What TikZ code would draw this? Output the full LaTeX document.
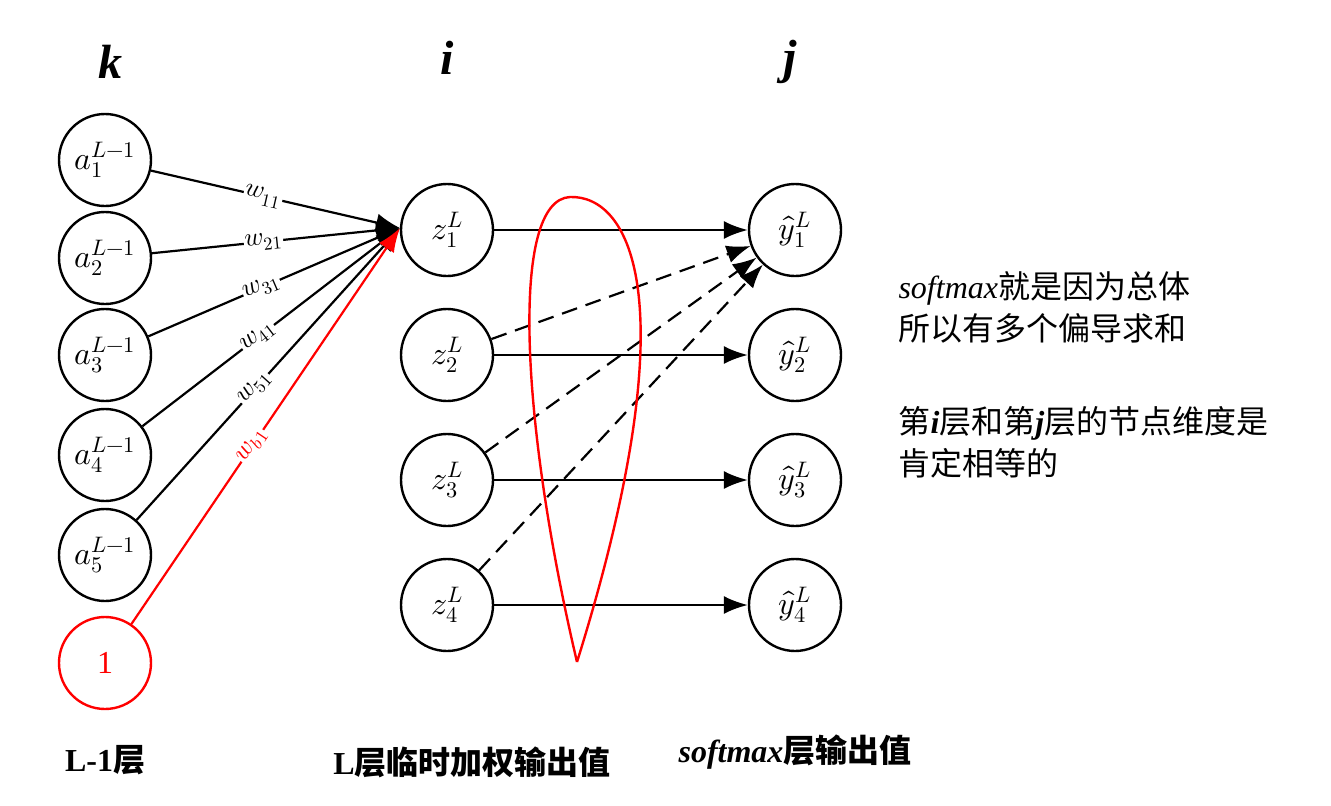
\documentclass[tikz,border=0pt]{standalone}
\usepackage{fontspec}
\usepackage{unicode-math}
\setmainfont{Liberation Serif}
\setmathfont{Latin Modern Math}
\newfontfamily\cjk{Noto Sans CJK SC}
\usetikzlibrary{arrows.meta}
\begin{document}
\begin{tikzpicture}[x=1pt,y=-1pt,
  neuron/.style={circle,draw,line width=2.4pt,minimum size=92pt,inner sep=0pt,font=\fontsize{32}{34}\selectfont},
  conn/.style={line width=2.2pt,-{Latex[length=24pt,width=18pt]}},
  wlab/.style={font=\fontsize{26}{28}\selectfont,fill=white,inner sep=1pt,sloped},
  txt/.style={font=\fontsize{32}{42}\selectfont,anchor=west,align=left}]
\useasboundingbox (0,0) rectangle (1331,806);
\node[font=\bfseries\itshape\fontsize{48}{50}\selectfont] (k) at (110,62) {k};
\node[font=\bfseries\itshape\fontsize{48}{50}\selectfont] (i) at (447,58) {i};
\node[font=\bfseries\itshape\fontsize{48}{50}\selectfont] (j) at (790,62) {j};
\foreach \n/\y in {1/160,2/258,3/355,4/455,5/555}
  \node[neuron] (a\n) at (105,\y) {$a_{\n}^{L-1}$};
\node[neuron,draw=red,text=red] (b) at (105,663) {1};
\foreach \n/\y in {1/230,2/355,3/480,4/605}{
  \node[neuron] (z\n) at (447,\y) {$z_{\n}^{L}$};
  \node[neuron] (y\n) at (795,\y) {$\hat{y}_{\n}^{L}$};}
\coordinate (t) at (400,228);
\draw[conn] (a1) -- node[wlab,pos=0.45]{$w_{11}$} (t);
\draw[conn] (a2) -- node[wlab,pos=0.45]{$w_{21}$} (t);
\draw[conn] (a3) -- node[wlab,pos=0.45]{$w_{31}$} (t);
\draw[conn] (a4) -- node[wlab,pos=0.45]{$w_{41}$} (t);
\draw[conn] (a5) -- node[wlab,pos=0.45]{$w_{51}$} (t);
\draw[conn,red] (b) -- node[wlab,pos=0.45,text=red]{$w_{b1}$} (t);
\foreach \n in {1,2,3,4} \draw[conn] (z\n) -- (y\n);
\foreach \n in {2,3,4} \draw[conn,dashed,dash pattern=on 16pt off 9pt] (z\n) -- (y1);
\draw[red,line width=2.4pt] (577,662) .. controls (520,420) and (510,200) .. (570,197)
  .. controls (630,195) and (690,300) .. (577,662);
\node[txt] (t1) at (895,307) {\textit{softmax}{\cjk 就是因为总体}\\{\cjk 所以有多个偏导求和}};
\node[txt] (t2) at (895,442) {{\cjk 第}\textbf{\textit{i}}{\cjk 层和第}\textbf{\textit{j}}{\cjk 层的节点维度是}\\{\cjk 肯定相等的}};
\node[font=\bfseries\fontsize{32}{34}\selectfont] (l1) at (105,760) {L-1{\cjk 层}};
\node[font=\bfseries\fontsize{32}{34}\selectfont] (l2) at (472,762) {L{\cjk 层临时加权输出值}};
\node[font=\bfseries\fontsize{32}{34}\selectfont] (l3) at (795,752) {\textit{softmax}{\cjk 层输出值}};
\end{tikzpicture}
\end{document}
